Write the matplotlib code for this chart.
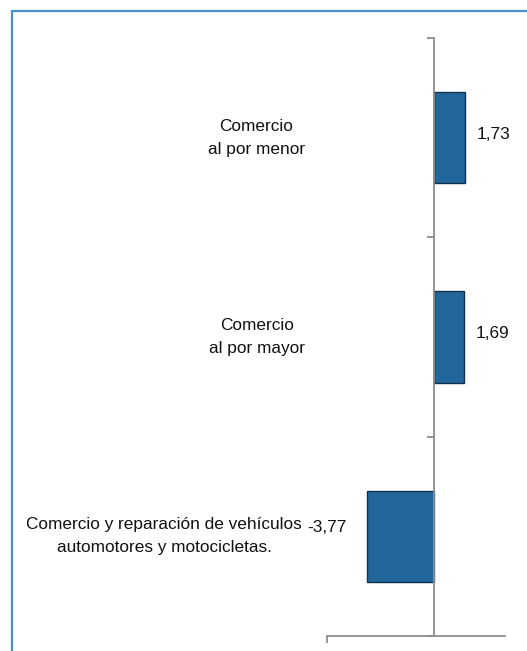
import matplotlib
matplotlib.use("Agg")
import matplotlib.pyplot as plt
from matplotlib.patches import Rectangle
from matplotlib.transforms import blended_transform_factory

plt.rcParams['font.family'] = ['Liberation Sans', 'DejaVu Sans']
FS = 12.4

categories = ["Comercio\nal por menor",
              "Comercio\nal por mayor",
              "Comercio y reparación de vehículos\nautomotores y motocicletas."]
values = [1.73, 1.69, -3.77]
value_labels = ["1,73", "1,69", "-3,77"]

W, H = 527, 651
fig = plt.figure(figsize=(W / 100, H / 100), dpi=100)

# outer frame
fig.patches.append(Rectangle((12 / W, -0.1), 1.2, (H - 11) / H + 0.1,
                             transform=fig.transFigure, fill=False,
                             edgecolor='#4b8fcb', linewidth=1.6))

ax = fig.add_axes([327 / W, (H - 636) / H, 178 / W, 598 / H])
ax.patch.set_alpha(0)

ypos = list(range(len(categories)))
ax.barh(ypos, values, height=0.457, color='#21679c', edgecolor='#10304f',
        linewidth=1.0, zorder=2)

ax.set_xlim(-6, 4)
ax.set_ylim(len(categories) - 0.5, -0.5)

gray = '#8c8c8c'
for s in ['top', 'right']:
    ax.spines[s].set_visible(False)
ax.spines['left'].set_position(('data', 0))
ax.spines['left'].set_color(gray)
ax.spines['left'].set_linewidth(1.3)
ax.spines['left'].set_zorder(3)
ax.spines['bottom'].set_color(gray)
ax.spines['bottom'].set_linewidth(1.3)

ax.set_yticks([i - 0.5 for i in range(len(categories) + 1)])
ax.set_yticklabels([])
ax.tick_params(axis='y', direction='out', length=5, width=1.3, color=gray)
ax.set_xticks([-6])
ax.set_xticklabels([])
ax.tick_params(axis='x', direction='out', length=5, width=1.3, color=gray)

trans = blended_transform_factory(fig.transFigure, ax.transData)
for i, (cat, v, lab) in enumerate(zip(categories, values, value_labels)):
    xr = 305 if v > 0 else 302
    ax.text(xr / W, i, cat, transform=trans, ha='right', va='center',
            multialignment='center', fontsize=FS, linespacing=1.65,
            color='#111111')
    if v >= 0:
        ax.annotate(lab, xy=(v, i), xytext=(8.5, 2.5), textcoords='offset points',
                    ha='left', va='center', fontsize=FS, color='#111111')
    else:
        ax.annotate(lab, xy=(v, i), xytext=(-14.5, 6.5), textcoords='offset points',
                    ha='right', va='center', fontsize=FS, color='#111111')

fig.savefig('out.png', dpi=100)
